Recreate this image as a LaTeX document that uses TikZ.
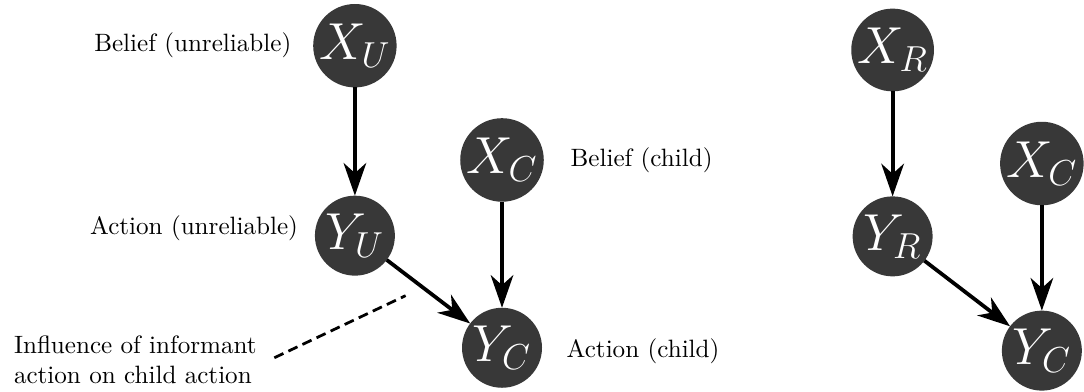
\documentclass[tikz,border=0pt]{standalone}
\usepackage{amsmath,amssymb}
\usepackage{tikz}
\usetikzlibrary{arrows.meta}
\usetikzlibrary{positioning}
\usetikzlibrary{calc}
\definecolor{nodegray}{RGB}{56,56,56}

\begin{document}
\begin{tikzpicture}[>={Stealth[length=13pt,width=9pt,inset=4pt]},line width=1.5pt,
            var node/.style={circle,fill=nodegray,text=white,inner sep=0pt,outer sep=0pt,minimum size=1.12cm,font=\fontsize{21.5}{26}\selectfont},
            lab node/.style={inner sep=0pt,font=\normalsize},
            infl line/.style={dashed,line width=1.1pt,dash pattern=on 4pt off 2.2pt}
            ]
            \useasboundingbox (-4.97,-4.84) rectangle (10.21,0.64);

            % unreliable informant
            \node[var node](xu) at (0,0){$X_U$};
            \node[var node](yu) at (0,-2.66){$Y_U$};
            \node[var node](xc) at (2.06,-1.60){$X_C$};
            \node[var node](yc) at (2.06,-4.23){$Y_C$};

            % reliable informant
            \node[var node](xr) at (7.53,-0.06){$X_R$};
            \node[var node](yr) at (7.53,-2.67){$Y_R$};
            \node[var node](xc2) at (9.62,-1.65){$X_C$};
            \node[var node](yc2) at (9.62,-4.27){$Y_C$};

            \node[lab node](bu)[left=0.28cm of xu]{Belief (unreliable)};
            \node[lab node](au)[left=0.21cm of yu,yshift=0.1cm]{Action (unreliable)};
            \node[lab node](bc)[right=0.35cm of xc]{Belief (child)};
            \node[lab node](ac)[right=0.32cm of yc,yshift=-0.05cm]{Action (child)};
            \node[lab node,align=left,anchor=west](infl) at (-4.80,-4.40){Influence of informant\\action on child action};

            \coordinate (d1) at ($(infl.east)+(0.22,0.03)$);
            \coordinate (d2) at (0.71,-3.50);

            \path[->]
            (xu) edge (yu)
            (yu) edge (yc)
            (xc) edge (yc)
            (xr) edge (yr)
            (yr) edge (yc2)
            (xc2) edge (yc2);

            \draw[infl line] (d1) -- (d2);

        \end{tikzpicture}
\end{document}
